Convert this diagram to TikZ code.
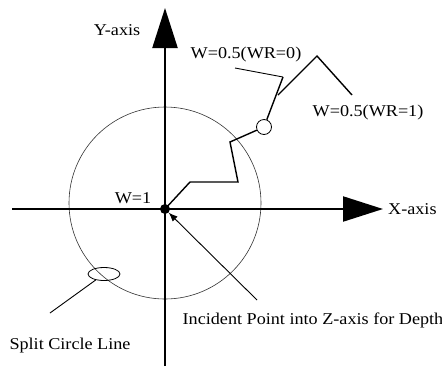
\documentclass[tikz,border=0pt]{standalone}
\usepackage{fontspec}
\setmainfont[FakeStretch=1.1]{Liberation Serif}
\usepackage{tikz}
\usetikzlibrary{arrows.meta, positioning, shapes.geometric}

\begin{document}
\begin{tikzpicture}[x=1pt, y=-1pt, node distance=4pt, >=Latex, font=\fontsize{16.5}{18}\selectfont,
    axis/.style={line width=2.2pt, -{Triangle[length=40pt, width=25pt]}},
    trace/.style={line width=1.4pt},
    lead/.style={line width=0.9pt},
    lbl/.style={inner sep=0pt}]
    \useasboundingbox (0,0) rectangle (442,376);

    % Circle
    \draw[line width=0.6pt, black!80] (165,203) circle[radius=96pt];

    % Axes
    \coordinate (xs) at (12,209);
    \coordinate (xe) at (383,209);
    \coordinate (ys) at (165,366);
    \coordinate (ye) at (165,8);
    \draw[axis] (xs) -- (xe);
    \draw[axis] (ys) -- (ye);

    % Nodes
    \node[circle, fill=black, inner sep=0pt, minimum size=10pt] (o) at (165,209) {};
    \node[circle, draw, fill=white, line width=0.8pt, inner sep=0pt, minimum size=15pt] (sc) at (264,127) {};
    \node[ellipse, draw, line width=0.8pt, inner sep=0pt, minimum width=32pt, minimum height=13pt] (split) at (104,274) {};

    \node[lbl, right=5pt of xe] (xl) {X-axis};
    \node[lbl] (yl) at (117,30) {Y-axis};
    \node[lbl] (w1) at (133,198) {W=1};
    \node[lbl] (w0) at (246,55) {W=0.5(WR=0)};
    \node[lbl] (wr) at (368,113) {W=0.5(WR=1)};
    \node[lbl] (sl) at (70,346) {Split Circle Line};
    \node[lbl] (ip) at (313,320) {Incident Point into Z-axis for Depth};

    % Trace
    \coordinate (a) at (190,182);
    \coordinate (b) at (238,182);
    \coordinate (c) at (230,142);
    \coordinate (d) at (283,77);
    \coordinate (e) at (235,68);
    \coordinate (f) at (278,95);
    \coordinate (g) at (317,56);
    \coordinate (h) at (352,95);
    \draw[trace] (o.center) -- (a) -- (b) -- (c) -- (sc);
    \draw[trace] (sc) -- (d);
    \draw[lead] (d) -- (e);
    \draw[trace] (f) -- (g) -- (h);

    % Leaders
    \coordinate (sp) at (50,313);
    \coordinate (ipt) at (257,300);
    \draw[lead] (split) -- (sp);
    \draw[lead, -{Latex[length=9pt, width=7pt]}] (ipt) -- (o);

\end{tikzpicture}
\end{document}
